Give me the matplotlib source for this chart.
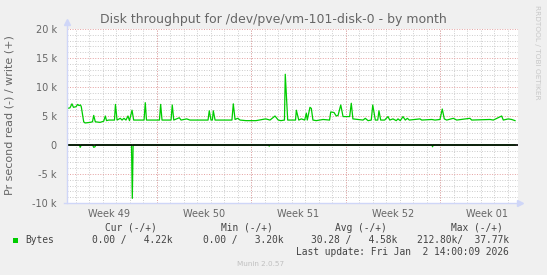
import numpy as np
import matplotlib
matplotlib.use("Agg")
import matplotlib.pyplot as plt
from matplotlib.patches import Rectangle

# time axis in days from the left edge of the graph
write_days = [0.02, 0.24, 0.39, 0.50, 0.69, 0.81, 0.91, 1.02, 1.08, 1.26, 1.36, 1.73, 1.91, 2.00,
              2.12, 2.47, 2.74, 2.86, 2.95, 3.11, 3.54, 3.61, 3.73, 3.97, 4.10, 4.24, 4.39, 4.54,
              4.65, 4.84, 4.96, 5.73, 5.82, 5.91, 6.87, 6.96, 7.06, 7.73, 7.82, 7.93, 8.34, 8.47,
              8.89, 9.13, 9.87, 10.47, 10.56, 10.69, 10.79, 10.86, 10.99, 12.24, 12.34, 12.47,
              12.67, 12.84, 13.28, 14.02, 14.74, 15.06, 15.43, 15.67, 15.87, 16.13, 16.19, 16.37,
              16.54, 16.95, 17.01, 17.19, 17.38, 17.63, 17.75, 17.82, 18.02, 18.12, 18.24, 18.49,
              18.99, 19.47, 19.56, 19.80, 19.97, 20.10, 20.30, 20.47, 20.96, 21.08, 21.20, 21.58,
              21.95, 22.12, 22.32, 22.56, 22.67, 22.86, 23.04, 23.13, 23.26, 23.55, 23.80, 23.93,
              24.17, 24.41, 24.54, 24.71, 24.91, 25.08, 25.23, 25.38, 26.17, 26.30, 27.04, 27.28,
              27.65, 27.82, 27.97, 28.15, 28.64, 28.89, 29.87, 30.00, 31.36, 31.60, 32.22, 32.34,
              32.71, 32.96, 33.21]
write_kb = [6.3, 6.4, 7.1, 6.5, 6.6, 7.0, 6.8, 6.9, 6.6, 4.0, 3.8, 3.9, 4.0, 5.1,
            4.0, 3.9, 4.1, 5.0, 4.2, 4.3, 4.3, 7.0, 4.3, 4.6, 4.3, 4.6, 4.3, 5.0,
            4.2, 6.0, 4.3, 4.3, 7.3, 4.3, 4.3, 7.0, 4.3, 4.3, 6.9, 4.3, 4.7, 4.3,
            4.5, 4.3, 4.3, 4.3, 5.9, 4.3, 4.3, 5.9, 4.3, 4.3, 7.1, 4.4,
            4.6, 4.3, 4.2, 4.2, 4.5, 4.3, 5.0, 4.3, 4.2, 4.3, 12.2, 4.3,
            4.3, 4.3, 6.0, 4.3, 4.5, 4.3, 5.5, 4.3, 6.5, 6.3, 4.3, 4.2,
            4.4, 4.3, 5.7, 5.6, 5.0, 5.1, 6.9, 4.9, 4.9, 7.2, 4.5, 4.4,
            4.3, 4.6, 4.2, 4.3, 6.9, 4.3, 4.3, 5.9, 4.3, 4.3, 4.9, 4.3,
            4.5, 4.2, 4.5, 4.2, 4.9, 4.3, 4.6, 4.3, 4.5, 4.3, 4.4, 4.3,
            4.4, 6.2, 4.5, 4.3, 4.6, 4.3, 4.6, 4.3, 4.4, 4.3, 5.0, 4.3,
            4.5, 4.4, 4.2]

read_days = [0.02, 0.95, 1.00, 1.08, 1.92, 2.00, 2.10, 2.15, 4.80, 4.86, 4.92,
             14.95, 15.00, 15.05, 27.05, 27.10, 27.15, 33.21]
read_kb = [0, 0, -0.4, 0, 0, -0.4, -0.3, 0, 0, -9.2, 0,
           0, -0.2, 0, 0, -0.3, 0, 0]

week_labels = ["Week 49", "Week 50", "Week 51", "Week 52", "Week 01"]
week_starts = [-0.33, 6.67, 13.67, 20.67, 27.67]
ytick_vals = [-10000, -5000, 0, 5000, 10000, 15000, 20000]
ytick_labels = ["-10 k", "-5 k", "0", "5 k", "10 k", "15 k", "20 k"]

legend_heads = ["Cur (-/+)", "Min (-/+)", "Avg (-/+)", "Max (-/+)"]
legend_vals = ["0.00 /   4.22k", "0.00 /   3.20k", "30.28 /   4.58k", "212.80k/  37.77k"]

W, H = 547, 275
GREEN = "#00CC00"
FONT = "#666666"
AXIS = "#CFD6F8"

fig = plt.figure(figsize=(W / 100, H / 100), dpi=100, facecolor="#F0F0F0")
ax = fig.add_axes([66.7 / W, 72 / H, 451.3 / W, 174 / H])
ax.set_facecolor("white")
x_max = 451.3 / 13.5
ax.set_xlim(0, x_max)
ax.set_ylim(-10000, 20000)
for s in ax.spines.values():
    s.set_visible(False)

# grid
dot = (0, (1, 1.6))
for y in np.arange(-10000, 20001, 1000):
    if y % 5000:
        ax.axhline(y, color="#CCCCCC", lw=0.7, ls=dot, zorder=1)
for d in np.arange(0.67, x_max, 1.0):
    ax.axvline(d, color="#CCCCCC", lw=0.7, ls=dot, zorder=1)
for y in ytick_vals:
    ax.axhline(y, color="#E4A0A0", lw=0.7, ls=dot, zorder=2)
for d in week_starts[1:]:
    ax.axvline(d, color="#E4A0A0", lw=0.7, ls=dot, zorder=2)

ax.plot(np.array(write_days), np.array(write_kb) * 1000, color=GREEN, lw=0.9, zorder=4)
ax.plot(np.array(read_days), np.array(read_kb) * 1000, color=GREEN, lw=0.9, zorder=4)
ax.axhline(0, color="black", lw=1.2, zorder=5)

# axes with arrows
ytop = 20000 + 7 * 30000 / 174
xend = (520 - 66.7) / 13.5
ax.plot([0, 0], [-10000, ytop], color=AXIS, lw=1, clip_on=False, zorder=6)
ax.plot([-0.2, xend], [-10000, -10000], color=AXIS, lw=1, clip_on=False, zorder=6)
ax.plot([0], [ytop], marker="^", ms=4, color=AXIS, clip_on=False, zorder=6)
ax.plot([xend], [-10000], marker=">", ms=4, color=AXIS, clip_on=False, zorder=6)

ax.set_yticks(ytick_vals)
ax.set_yticklabels(ytick_labels)
ax.set_xticks([w + 3.5 for w in week_starts])
ax.set_xticklabels(week_labels)
ax.tick_params(axis="y", length=0, pad=7, labelsize=7, labelcolor=FONT)
ax.tick_params(axis="x", length=0, pad=4, labelsize=7, labelcolor=FONT)


def fx(x):
    return x / W


def fy(y):
    return 1 - y / H


fig.text(fx(273), fy(20), "Disk throughput for /dev/pve/vm-101-disk-0 - by month",
         ha="center", va="center", fontsize=9.0, color=FONT)
fig.text(fx(10), fy(115), "Pr second read (-) / write (+)", rotation=90,
         ha="center", va="center", fontsize=8.0, color=FONT)
fig.text(fx(537), fy(5), "RRDTOOL / TOBI OETIKER", rotation=270,
         ha="center", va="top", fontsize=5.3, color="#C8C8C8")

mono = dict(family="DejaVu Sans Mono", fontsize=6.9, color="#444444", va="center")
for txt, xe in zip(legend_heads, [157, 273, 387, 503]):
    fig.text(fx(xe), fy(228), txt, ha="right", **mono)
for txt, xe in zip(legend_vals, [172, 284, 397, 509]):
    fig.text(fx(xe), fy(240), txt, ha="right", **mono)
fig.text(fx(25), fy(240), "Bytes", ha="left", **mono)
fig.add_artist(Rectangle((fx(13), fy(242.5)), 5 / W, 5 / H, transform=fig.transFigure,
                         facecolor=GREEN, edgecolor="none"))
fig.text(fx(509), fy(252), "Last update: Fri Jan  2 14:00:09 2026", ha="right", **mono)
fig.text(fx(260.5), fy(264.5), "Munin 2.0.57", ha="center", va="center",
         fontsize=5.2, color="#C0C0C0")

fig.savefig("out.png", dpi=100, facecolor=fig.get_facecolor())
